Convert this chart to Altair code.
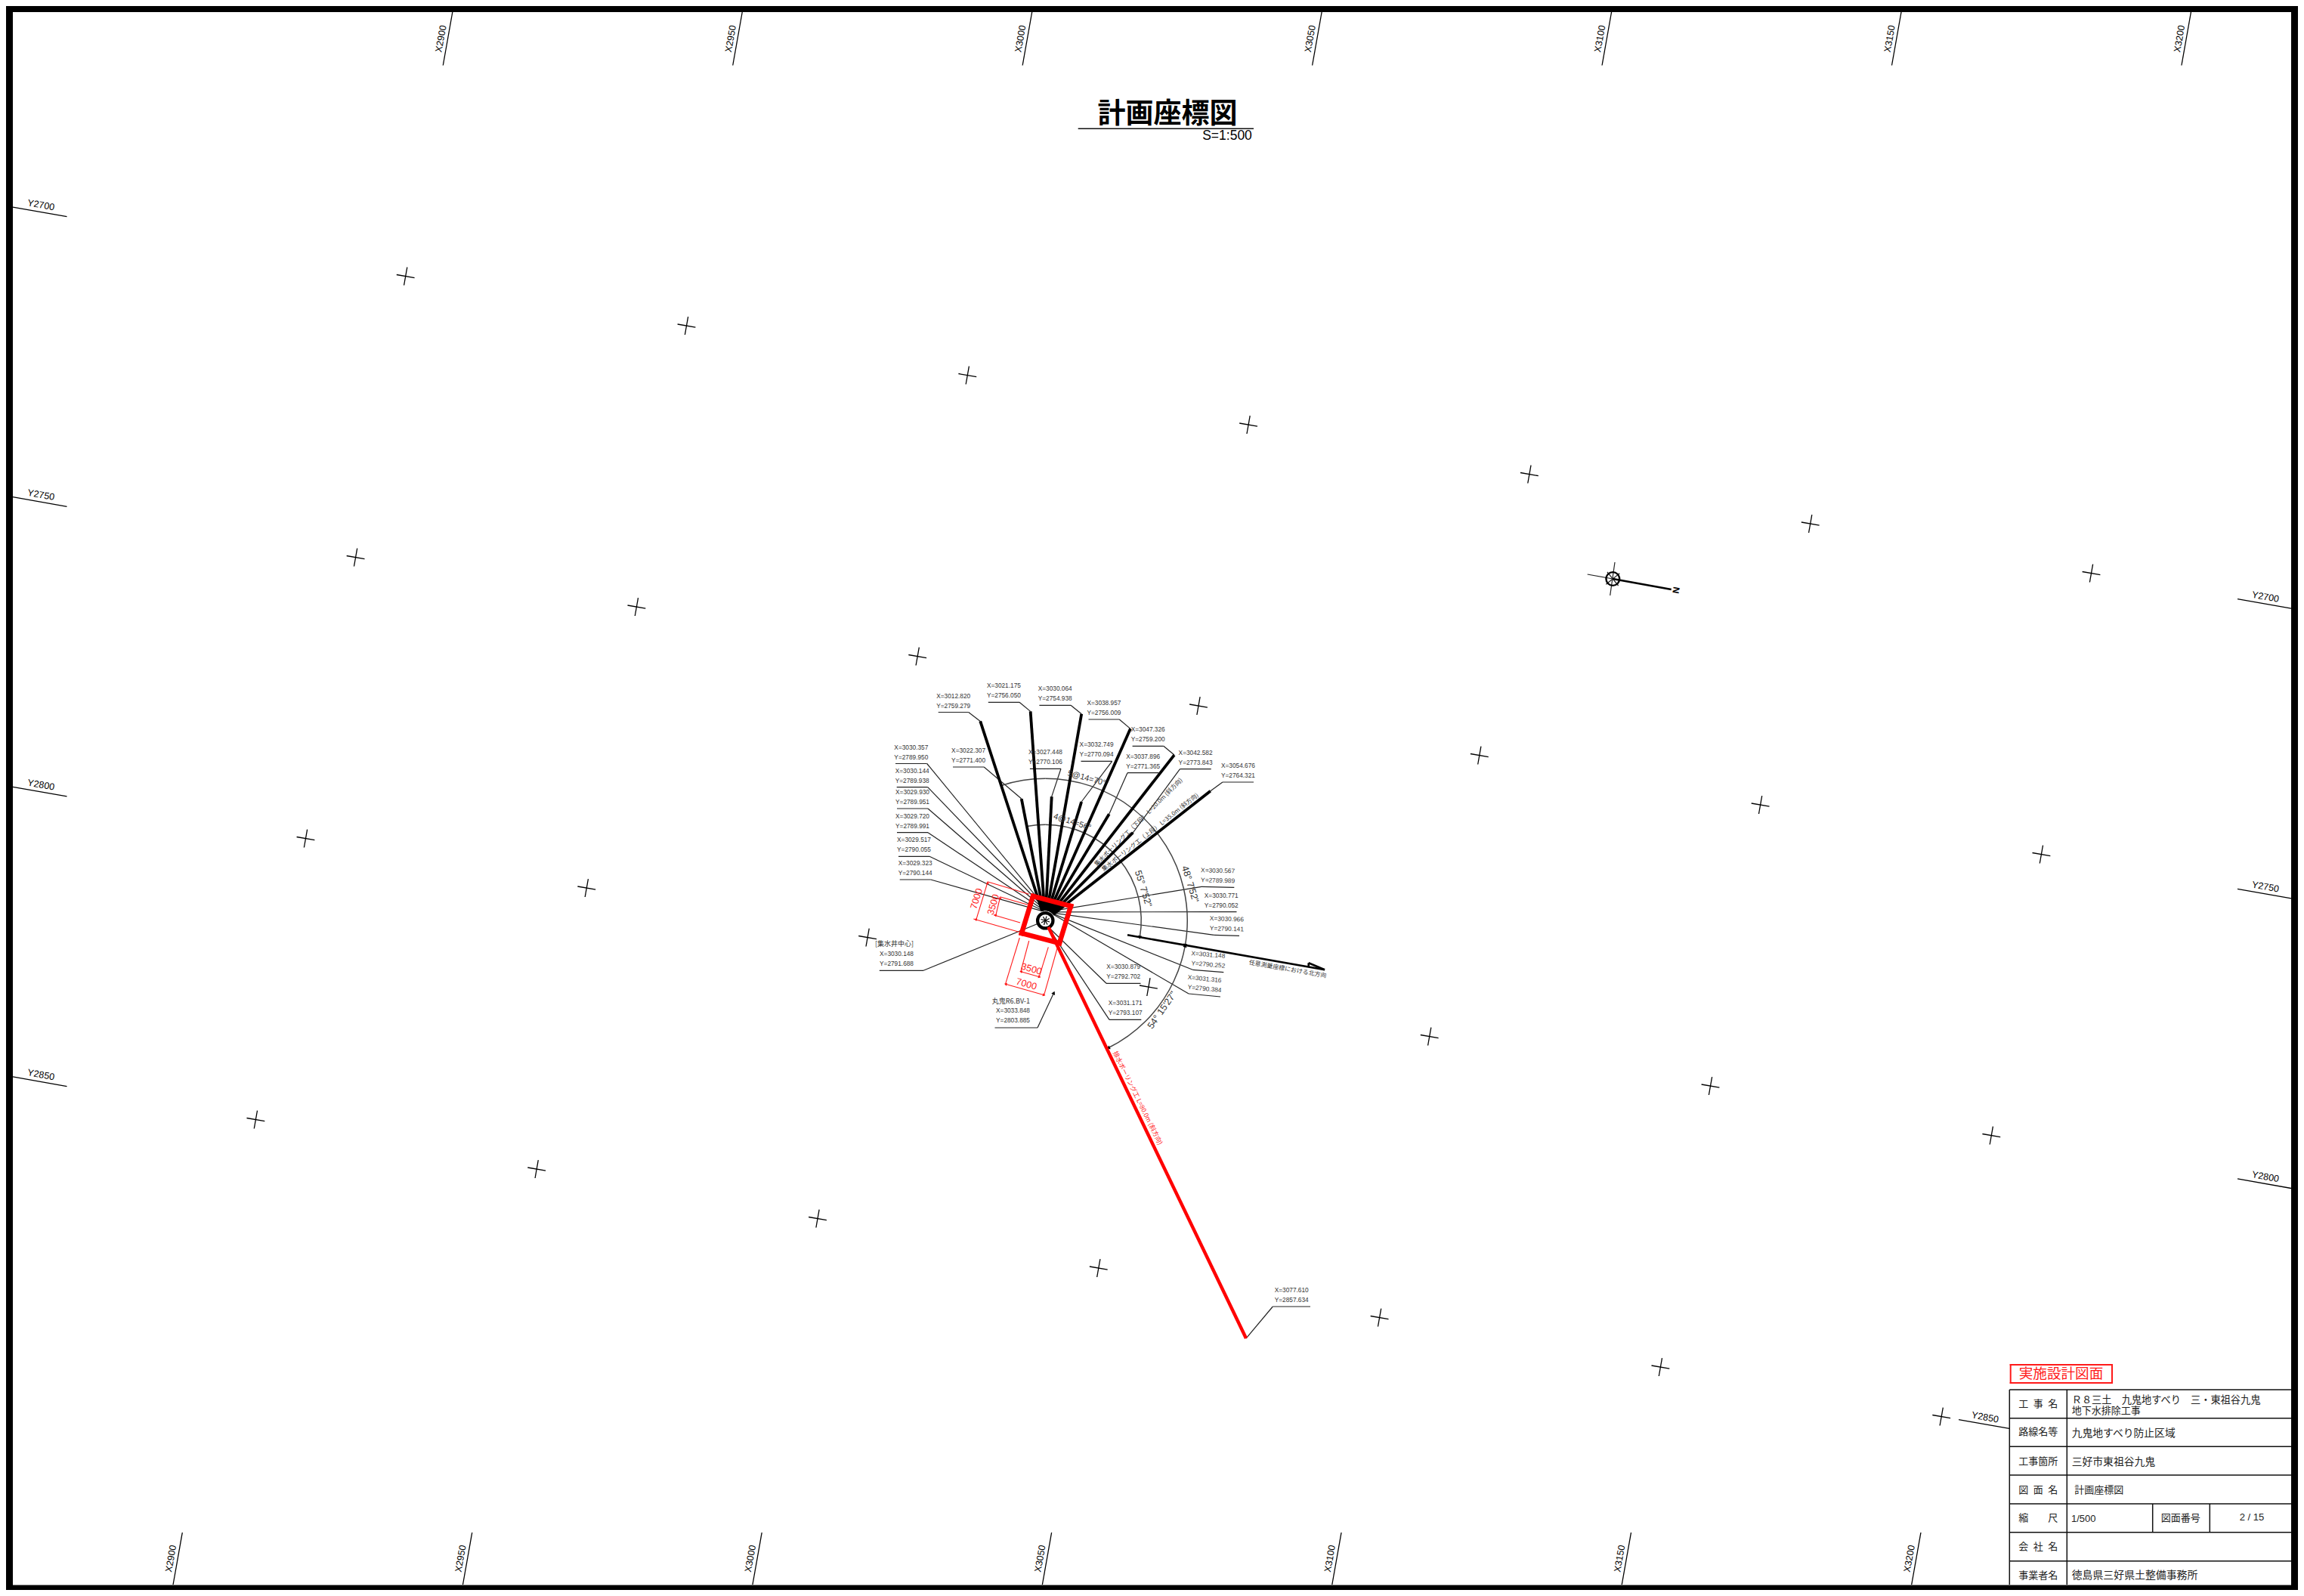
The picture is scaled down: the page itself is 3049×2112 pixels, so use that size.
import math
import altair as alt
import pandas as pd

W, H = 3033, 2096
SANS = "Liberation Sans"
CJK = "Noto Sans CJK JP"

# survey grid
GRID_X = [2900, 2950, 3000, 3050, 3100, 3150, 3200]
GRID_Y = [2700, 2750, 2800, 2850]

# survey points
WELL = (3030.148, 2791.688)
DRAIN_START = (3030.879, 2792.702)
DRAIN_COLLAR = (3031.171, 2793.107)
DRAIN_END = (3077.610, 2857.634)
BORING = (3033.848, 2803.885)
ENDS = [(3012.820, 2759.279), (3022.307, 2771.400), (3021.175, 2756.050), (3027.448, 2770.106),
        (3030.064, 2754.938), (3032.749, 2770.094), (3038.957, 2756.009), (3037.896, 2771.365),
        (3047.326, 2759.200), (3042.582, 2773.843), (3054.676, 2764.321)]
COLLARS = [(3029.323, 2790.144), (3029.517, 2790.055), (3029.720, 2789.991), (3029.930, 2789.951),
           (3030.144, 2789.938), (3030.357, 2789.950), (3030.567, 2789.989), (3030.771, 2790.052),
           (3030.966, 2790.141), (3031.148, 2790.252), (3031.316, 2790.384)]

# sheet placement of the survey grid
OX, OY, AX, BX, AY, BY = 536.7, 365.6, 7.436, 1.322, 1.31, 7.44


def sheet(X, Y):
    return (OX + AX * (X - 2900) - BX * (Y - 2700), OY + AY * (X - 2900) + BY * (Y - 2700))


def y_at(X, py):
    return 2700 + (py - OY - AY * (X - 2900)) / BY


def x_at(Y, px):
    return 2900 + (px - OX + BX * (Y - 2700)) / AX


CENTER = sheet(*WELL)

# callouts: survey point, underline x0,y0,x1,y1, end the leader leaves from
CALLOUTS = [
    (ENDS[0], 1241.7, 942.5, 1281.7, 942.5, 1),
    (ENDS[2], 1307.8, 929.3, 1349, 929.3, 1),
    (ENDS[4], 1375.4, 933.3, 1417, 933.3, 1),
    (ENDS[6], 1440.5, 952, 1481.3, 952, 1),
    (ENDS[8], 1498.6, 987.3, 1539.8, 987.3, 1),
    (ENDS[9], 1561.5, 1017.7, 1602.7, 1017.7, 0),
    (ENDS[10], 1617.9, 1035, 1659, 1035, 0),
    (ENDS[7], 1492, 1022.7, 1533.3, 1022.7, 0),
    (ENDS[5], 1430.5, 1007.3, 1471.7, 1007.3, 1),
    (ENDS[3], 1362.9, 1017.3, 1404, 1017.3, 1),
    (ENDS[1], 1261, 1015, 1302.2, 1015, 1),
    (COLLARS[5], 1185, 1010.5, 1226.7, 1010.5, 1),
    (COLLARS[4], 1186.7, 1041.7, 1227.7, 1041.7, 1),
    (COLLARS[3], 1187, 1070, 1228, 1070, 1),
    (COLLARS[2], 1187, 1101.7, 1228, 1101.7, 1),
    (COLLARS[1], 1189, 1133.3, 1230, 1133.3, 1),
    (COLLARS[0], 1190.7, 1164, 1231.7, 1164, 1),
    (COLLARS[6], 1590, 1173.3, 1633.3, 1174.3, 0),
    (COLLARS[7], 1596, 1206.7, 1636.5, 1206.7, 0),
    (COLLARS[8], 1606.7, 1237.3, 1640, 1238.3, 0),
    (COLLARS[9], 1578.3, 1283.3, 1619.3, 1286.7, 0),
    (COLLARS[10], 1573, 1315, 1615, 1319, 0),
    (DRAIN_START, 1464, 1301.3, 1509.5, 1301.3, 0),
    (DRAIN_COLLAR, 1468, 1349.3, 1510.3, 1349.3, 0),
]

RED_SQUARE = [(1367, 1186), (1417, 1199), (1402, 1248), (1352, 1235)]
RED_THIN = [(1306.7, 1166.7, 1361.7, 1183.3), (1288.3, 1216, 1348.3, 1233.3), (1306.7, 1168.3, 1291.7, 1217.3),
            (1323.3, 1186.7, 1360, 1197.3), (1315, 1210.7, 1350, 1221), (1323.3, 1188.3, 1317.7, 1211.7),
            (1349.3, 1241, 1330.7, 1301.7), (1400, 1251.7, 1381.7, 1316.7), (1330.7, 1302.3, 1381.7, 1316.7),
            (1361.7, 1245, 1351, 1285), (1387.3, 1253.3, 1375, 1293.3), (1351, 1285.7, 1375.7, 1292.7)]
TABLE_ROWS = [1839, 1876.7, 1914.3, 1952, 1990, 2027.7, 2065.7]
TABLE_HEAD = ["工\u2002事\u2002名", "路線名等", "工事箇所", "図\u2002面\u2002名", "縮\u3000\u3000尺", "会\u2002社\u2002名", "事業者名"]
HEAD_Y = [1857.7, 1895.3, 1933.7, 1971.7, 2009.3, 2046.7, 2085]

segs = {"thin": [], "thick": [], "north": [], "redthin": [], "redthick": [], "drain": [],
        "frame": [], "table": [], "stamp": [], "grid": []}
texts = []
points = []


def seg(kind, x0, y0, x1, y1):
    segs[kind].append({"x": x0, "y": y0, "x2": x1, "y2": y1})


def text(t, x, y, size, font=SANS, color="#333333", angle=0, align="center", weight="normal"):
    texts.append({"t": t, "x": x, "y": y, "a": angle % 360, "size": size, "font": font,
                  "color": color, "align": align, "weight": weight})


# grid crosses
for X in GRID_X:
    for Y in GRID_Y:
        seg("grid", *sheet(X - 1.6, Y), *sheet(X + 1.6, Y))
        seg("grid", *sheet(X, Y - 1.6), *sheet(X, Y + 1.6))

# grid ticks on the four sides
for X in GRID_X:
    for py0, py1 in ((16, 86.5), (2028, 2097)):
        a, b = sheet(X, y_at(X, py0)), sheet(X, y_at(X, py1))
        seg("grid", *a, *b)
        text(f"X{X}", (a[0] + b[0]) / 2 - 9, (a[1] + b[1]) / 2, 12.5, color="black", angle=-80)
for Y in GRID_Y:
    ranges = [(17, 88.5), (2592, 2659) if Y == 2850 else (2961, 3032)]
    for px0, px1 in ranges:
        a, b = sheet(x_at(Y, px0), Y), sheet(x_at(Y, px1), Y)
        seg("grid", *a, *b)
        text(f"Y{Y}", (a[0] + b[0]) / 2 + 1.5, (a[1] + b[1]) / 2 - 9, 12.5, color="black", angle=10)

# callouts
for pt, x0, y0, x1, y1, side in CALLOUTS:
    seg("thin", x0, y0, x1, y1)
    tgt = sheet(*pt)
    seg("thin", x1 if side else x0, y1 if side else y0, *tgt)
    tilt = math.degrees(math.atan2(y1 - y0, x1 - x0))
    cx, cy = (x0 + x1) / 2, (y0 + y1) / 2
    text(f"X={pt[0]:.3f}", cx, cy - 21, 8.3, angle=tilt)
    text(f"Y={pt[1]:.3f}", cx, cy - 8, 8.3, angle=tilt)

# other callouts
seg("thin", 1163.8, 1284.3, 1222, 1284.3)
seg("thin", 1222, 1284.3, *CENTER)
text("[集水井中心]", 1209, 1249.3, 9, font=CJK, align="right")
text(f"X={WELL[0]:.3f}", 1209, 1262.7, 8.3, align="right")
text(f"Y={WELL[1]:.3f}", 1209, 1276, 8.3, align="right")
seg("thin", 1316.5, 1360, 1373, 1360)
seg("thin", 1373, 1360, *sheet(*BORING))
text("丸鬼R6.BV-1", 1363, 1325, 9, font=CJK, align="right")
text(f"X={BORING[0]:.3f}", 1363, 1338.3, 8.3, align="right")
text(f"Y={BORING[1]:.3f}", 1363, 1351, 8.3, align="right")
seg("thin", 1684.3, 1729, 1734, 1729)
seg("thin", 1684.3, 1729, *sheet(*DRAIN_END))
text(f"X={DRAIN_END[0]:.3f}", 1731.7, 1708, 8.3, align="right")
text(f"Y={DRAIN_END[1]:.3f}", 1731.7, 1721, 8.3, align="right")

# bore holes
for a, b in zip(COLLARS, ENDS):
    seg("thick", *sheet(*a), *sheet(*b))
seg("drain", *sheet(*DRAIN_START), *sheet(*DRAIN_END))
text("排水ボーリング工 L=80.0m (斜方向)", 1505.7, 1453, 8.5, font=CJK, color="#ff2020", angle=63.7)
text("集水ボーリング工（上段） L=35.0m (斜方向)", 1522.5, 1101.7, 8, font=CJK, angle=-38.5)
text("集水ボーリング工（下段） L=20.0m (斜方向)", 1507, 1088.3, 8, font=CJK, angle=-45)

# north direction arrow
seg("north", 1492, 1237.3, 1753, 1283.3)
seg("north", 1731.7, 1274.3, 1753, 1283.3)
seg("north", 1731.7, 1274.3, 1731.7, 1280)
text("任意測量座標における北方向", 1704, 1283, 8, font=CJK, angle=10)

# angle labels
text("5@14=70°", 1438, 1030, 10.8, angle=15)
text("4@14=56°", 1419, 1088, 10.8, angle=18)
text("48°  7'52\"", 1575, 1170, 12.5, angle=73)
text("55°  7'52\"", 1513, 1176, 12.5, angle=73)
text("54°  15'27\"", 1537.7, 1336.7, 12.5, angle=-55)
for r, t in ((127, 100.1), (188, 100.1), (188, 153.7)):
    px = CENTER[0] + r * math.sin(math.radians(t))
    py = CENTER[1] - r * math.cos(math.radians(t))
    points.append({"x": px, "y": py, "a": (t + 90) % 360, "color": "black"})
px = CENTER[0] + 188 * math.sin(math.radians(100.1))
py = CENTER[1] - 188 * math.cos(math.radians(100.1))
points.append({"x": px, "y": py, "a": 10.1, "color": "black"})
points.append({"x": sheet(*BORING)[0], "y": sheet(*BORING)[1], "a": 25, "color": "black"})

# red square & dims
for i in range(4):
    seg("redthick", *RED_SQUARE[i], *RED_SQUARE[(i + 1) % 4])
for r in RED_THIN:
    seg("redthin", *r)
for (x, y, a) in ((1306.7, 1168.3, 343), (1291.7, 1217.3, 163), (1323.3, 1188.3, 343), (1317.7, 1211.7, 163),
                  (1330.7, 1302.3, 286), (1381.7, 1316.7, 106), (1351, 1285.7, 286), (1375.7, 1292.7, 106)):
    points.append({"x": x, "y": y, "a": a, "color": "red"})
text("7000", 1292.3, 1189.3, 12.5, color="#ff1a1a", angle=-73)
text("3500", 1314.5, 1197, 12.5, color="#ff1a1a", angle=-73)
text("7000", 1358.3, 1302.3, 12.5, color="#ff1a1a", angle=16)
text("3500", 1365, 1282.3, 12.5, color="#ff1a1a", angle=16)

# north symbol
NC = (2134.3, 766)
seg("thin", 2100.7, 760, NC[0], NC[1])
seg("north", NC[0], NC[1], 2211.7, 780)
seg("thin", 2137, 744, 2130.7, 788)
seg("thin", 2127, 757, 2141.6, 775)
seg("thin", 2143.3, 758.7, 2125.3, 773.3)
text("N", 2218, 781, 12, color="black", angle=100, weight="bold")

# title
seg("table", 1426.7, 170.3, 1659, 170.3)
text("計画座標図", 1545, 151.5, 37, font=CJK, color="black", weight="bold")
text("S=1:500", 1624, 180, 17.5, color="black")

# table
for y in TABLE_ROWS:
    seg("table", 2659.3, y, 3032, y)
seg("table", 2659.3, 1839, 2659.3, 2097)
seg("table", 2735.3, 1839, 2735.3, 2097)
seg("table", 2848.7, 1990, 2848.7, 2027.7)
seg("table", 2924.3, 1990, 2924.3, 2027.7)
for t, y in zip(TABLE_HEAD, HEAD_Y):
    text(t, 2697.3, y, 13, font=CJK, color="#222222")
LEFT = 2741.7
text("Ｒ８三土\u3000九鬼地すべり\u3000三・東祖谷九鬼", LEFT, 1853.3, 13.2, font=CJK, color="#222222", align="left")
text("地下水排除工事", LEFT, 1867, 13, font=CJK, color="#222222", align="left")
text("九鬼地すべり防止区域", LEFT, 1896.7, 13.8, font=CJK, color="#222222", align="left")
text("三好市東祖谷九鬼", LEFT, 1935, 13.8, font=CJK, color="#222222", align="left")
text("計画座標図", 2745.3, 1971.7, 13, font=CJK, color="#222222", align="left")
text("1/500", 2741, 2010, 13, color="#222222", align="left")
text("図面番号", 2885.7, 2009, 13, font=CJK, color="#222222")
text("2 / 15", 2980, 2008.3, 13, color="#222222")
text("徳島県三好県土整備事務所", LEFT, 2085, 13.9, font=CJK, color="#222222", align="left")
# stamp
for a, b in (((2660.7, 1806), (2795, 1806)), ((2795, 1806), (2795, 1830)),
             ((2795, 1830), (2660.7, 1830)), ((2660.7, 1830), (2660.7, 1806))):
    seg("stamp", *a, *b)
text("実施設計図面", 2727.5, 1818, 18.6, font=CJK, color="#ff1a1a")

# frame
for a, b in (((12, 11), (3037, 11)), ((3037, 11), (3037, 2102.5)),
             ((3037, 2102.5), (12, 2102.5)), ((12, 2102.5), (12, 11))):
    seg("frame", *a, *b)

xs = alt.Scale(domain=[8, 8 + W], range=[0, W], nice=False, zero=False)
ys = alt.Scale(domain=[8 + H, 8], range=[H, 0], nice=False, zero=False)
X_ = alt.X("x:Q", scale=xs, axis=None)
Y_ = alt.Y("y:Q", scale=ys, axis=None)

STYLE = {"grid": ("black", 1.3), "thin": ("#222222", 1.2), "thick": ("black", 3.8), "north": ("black", 2.6),
         "redthin": ("#ff1a1a", 1.1), "redthick": ("red", 6.5), "drain": ("red", 4.4),
         "frame": ("black", 10), "table": ("#111111", 1.5), "stamp": ("#ff1a1a", 2)}


def rules(kind):
    c, w = STYLE[kind]
    cap = "square" if kind in ("frame", "redthick", "stamp") else "butt"
    return alt.Chart(pd.DataFrame(segs[kind])).mark_rule(color=c, strokeWidth=w, strokeCap=cap).encode(
        x=X_, y=Y_, x2="x2:Q", y2="y2:Q")


def arc(r, t0, t1):
    return alt.Chart(pd.DataFrame([{"x": CENTER[0], "y": CENTER[1]}])).mark_arc(
        filled=False, fillOpacity=0, stroke="#444444", strokeWidth=1.5, radius=r, radius2=r,
        theta=math.radians(t0), theta2=math.radians(t1)).encode(x=X_, y=Y_)


def well(r, sw, fill):
    return alt.Chart(pd.DataFrame([{"x": CENTER[0], "y": CENTER[1]}])).mark_point(
        shape="circle", filled=False, fill=fill, fillOpacity=1, stroke="black", strokeWidth=sw, opacity=1,
        size=math.pi * r * r).encode(x=X_, y=Y_)


def north_ring():
    return alt.Chart(pd.DataFrame([{"x": NC[0], "y": NC[1]}])).mark_point(
        shape="circle", filled=False, stroke="black", strokeWidth=2.4, opacity=1,
        size=math.pi * 10 * 10).encode(x=X_, y=Y_)


spoke_rows = []
for a in (17, 62, 107, 152):
    c, s = math.cos(math.radians(a)), math.sin(math.radians(a))
    spoke_rows.append({"x": CENTER[0] - 6 * c, "y": CENTER[1] - 6 * s, "x2": CENTER[0] + 6 * c, "y2": CENTER[1] + 6 * s})
spokes = alt.Chart(pd.DataFrame(spoke_rows)).mark_rule(color="black", strokeWidth=1.2).encode(
    x=X_, y=Y_, x2="x2:Q", y2="y2:Q")

pts = pd.DataFrame(points)
layers = [rules("frame"), rules("grid"), rules("thin"),
          arc(188, 342, 360), arc(188, 0, 153.7), arc(127, 349, 360), arc(127, 0, 100.1)]
for color, sz in (("black", 28), ("red", 16)):
    layers.append(alt.Chart(pts[pts.color == color]).mark_point(
        shape="triangle-up", filled=True, color=color, size=sz, opacity=1).encode(
        x=X_, y=Y_, angle=alt.Angle("a:Q", scale=None)))
layers += [rules("thick"), rules("north"), north_ring(), well(11.5, 4.2, "white"), spokes,
           rules("redthin"), rules("redthick"), rules("drain"), rules("table"), rules("stamp")]

tdf = pd.DataFrame(texts)
for (size, font, color, align, weight), g in tdf.groupby(["size", "font", "color", "align", "weight"], sort=False):
    layers.append(alt.Chart(g).mark_text(
        fontSize=float(size), font=font, color=color, align=align, baseline="middle", fontWeight=weight).encode(
        x=X_, y=Y_, text="t:N", angle=alt.Angle("a:Q", scale=None)))

chart = alt.layer(*layers).properties(
    width=W, height=H, padding=0, autosize="none", background="white"
).configure_view(strokeWidth=0)

chart.save("out.html", embed_options={"renderer": "svg", "actions": False})
